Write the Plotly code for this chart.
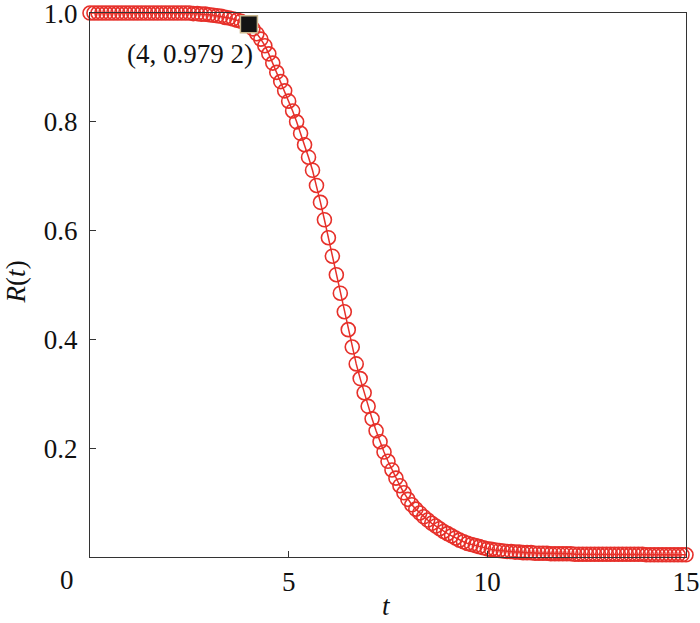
import plotly.graph_objects as go

t_vals = [
    0.0, 0.1, 0.2, 0.3, 0.4, 0.5, 0.6, 0.7, 0.8, 0.9,
    1.0, 1.1, 1.2, 1.3, 1.4, 1.5, 1.6, 1.7, 1.8, 1.9,
    2.0, 2.1, 2.2, 2.3, 2.4, 2.5, 2.6, 2.7, 2.8, 2.9,
    3.0, 3.1, 3.2, 3.3, 3.4, 3.5, 3.6, 3.7, 3.8, 3.9,
    4.0, 4.1, 4.2, 4.3, 4.4, 4.5, 4.6, 4.7, 4.8, 4.9,
    5.0, 5.1, 5.2, 5.3, 5.4, 5.5, 5.6, 5.7, 5.8, 5.9,
    6.0, 6.1, 6.2, 6.3, 6.4, 6.5, 6.6, 6.7, 6.8, 6.9,
    7.0, 7.1, 7.2, 7.3, 7.4, 7.5, 7.6, 7.7, 7.8, 7.9,
    8.0, 8.1, 8.2, 8.3, 8.4, 8.5, 8.6, 8.7, 8.8, 8.9,
    9.0, 9.1, 9.2, 9.3, 9.4, 9.5, 9.6, 9.7, 9.8, 9.9,
    10.0, 10.1, 10.2, 10.3, 10.4, 10.5, 10.6, 10.7, 10.8, 10.9,
    11.0, 11.1, 11.2, 11.3, 11.4, 11.5, 11.6, 11.7, 11.8, 11.9,
    12.0, 12.1, 12.2, 12.3, 12.4, 12.5, 12.6, 12.7, 12.8, 12.9,
    13.0, 13.1, 13.2, 13.3, 13.4, 13.5, 13.6, 13.7, 13.8, 13.9,
    14.0, 14.1, 14.2, 14.3, 14.4, 14.5, 14.6, 14.7, 14.8, 14.9,
    15.0,
]
r_vals = [
    1.000, 1.000, 1.000, 1.000, 1.000, 1.000, 1.000, 1.000, 1.000, 1.000,
    1.000, 1.000, 1.000, 1.000, 1.000, 1.000, 1.000, 1.000, 1.000, 1.000,
    1.000, 1.000, 1.000, 1.000, 1.000, 1.000, 0.999, 0.999, 0.998, 0.998,
    0.997, 0.996, 0.995, 0.994, 0.992, 0.991, 0.989, 0.987, 0.985, 0.982,
    0.979, 0.971, 0.962, 0.952, 0.940, 0.925, 0.908, 0.891, 0.874, 0.857,
    0.838, 0.820, 0.800, 0.779, 0.758, 0.735, 0.711, 0.683, 0.652, 0.620,
    0.587, 0.553, 0.519, 0.485, 0.451, 0.418, 0.386, 0.355, 0.328, 0.302,
    0.277, 0.254, 0.232, 0.212, 0.193, 0.176, 0.160, 0.145, 0.131, 0.118,
    0.106, 0.096, 0.088, 0.081, 0.074, 0.068, 0.062, 0.057, 0.052, 0.047,
    0.043, 0.039, 0.035, 0.031, 0.028, 0.025, 0.023, 0.021, 0.019, 0.017,
    0.015, 0.014, 0.013, 0.012, 0.011, 0.010, 0.010, 0.009, 0.009, 0.008,
    0.008, 0.008, 0.007, 0.007, 0.007, 0.007, 0.006, 0.006, 0.006, 0.006,
    0.006, 0.006, 0.005, 0.005, 0.005, 0.005, 0.005, 0.005, 0.005, 0.005,
    0.005, 0.005, 0.005, 0.005, 0.005, 0.005, 0.005, 0.005, 0.005, 0.005,
    0.004, 0.004, 0.004, 0.004, 0.004, 0.004, 0.004, 0.004, 0.004, 0.004,
    0.004,
]

# highlighted point
mark_t = [4]
mark_r = [0.9792]

x_ticks = [5, 10, 15]
y_ticks = [0.2, 0.4, 0.6, 0.8, 1.0]
y_tick_text = ["0.2", "0.4", "0.6", "0.8", "1.0"]

RED = "#e6302a"
FONT = "Liberation Serif, Times New Roman, serif"
FSIZE = 27

fig = go.Figure()
fig.add_trace(
    go.Scatter(
        x=t_vals,
        y=r_vals,
        mode="lines+markers",
        line=dict(color=RED, width=1.5),
        marker=dict(symbol="circle-open", size=14, color=RED, line=dict(width=1.6)),
        cliponaxis=False,
        showlegend=False,
    )
)
fig.add_trace(
    go.Scatter(
        x=mark_t,
        y=mark_r,
        mode="markers",
        marker=dict(symbol="square", size=17, color="#141414", line=dict(color="#c9b78e", width=1.5)),
        cliponaxis=False,
        showlegend=False,
    )
)

fig.add_annotation(
    x=mark_t[0], y=mark_r[0], text="(4, 0.979 2)", showarrow=False,
    xanchor="center", yanchor="middle", xshift=-59, yshift=-30,
    font=dict(family=FONT, size=FSIZE, color="#111"),
)
# shared origin label sits at the corner
fig.add_annotation(
    x=0, y=0, text="0", showarrow=False, xanchor="center", yanchor="middle",
    xshift=-23, yshift=-23, font=dict(family=FONT, size=FSIZE, color="#111"),
)
fig.add_annotation(
    xref="paper", yref="paper", x=-0.124, y=0.505, text="<i>R</i>(<i>t</i>)",
    xanchor="center", yanchor="middle",
    showarrow=False, textangle=-90, font=dict(family=FONT, size=FSIZE, color="#111"),
)
fig.add_annotation(
    xref="paper", yref="paper", x=0.497, y=-0.09, text="<i>t</i>",
    xanchor="center", yanchor="middle",
    showarrow=False, font=dict(family=FONT, size=FSIZE, color="#111"),
)

axis_style = dict(
    showline=True, linecolor="#333", linewidth=1.3, mirror=True,
    ticks="inside", ticklen=6, tickcolor="#333", showgrid=False, zeroline=False,
    automargin=False, ticklabeloverflow="allow",
    tickfont=dict(family=FONT, size=FSIZE, color="#111"),
)
fig.update_xaxes(range=[0, 15.0001], tickvals=x_ticks, ticklabelstandoff=0, **axis_style)
fig.update_yaxes(range=[0, 1.0001], tickvals=y_ticks, ticktext=y_tick_text, ticklabelstandoff=6, **axis_style)

fig.update_layout(
    width=700, height=623,
    margin=dict(l=90, r=14, t=13, b=66),
    plot_bgcolor="white", paper_bgcolor="white",
    font=dict(family=FONT),
)

fig.write_html(
    "out.html",
    config={"displayModeBar": False},
    post_script="document.body.style.margin='0';",
)
